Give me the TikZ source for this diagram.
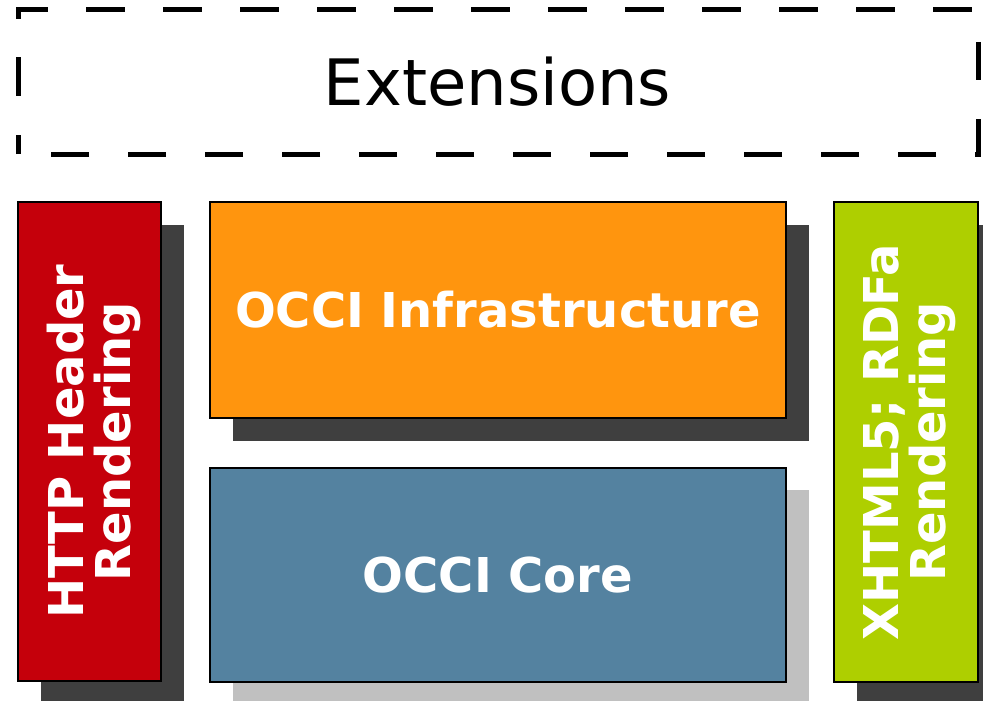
\documentclass[tikz,border=0pt]{standalone}
\usepackage{fontspec}
\setmainfont{DejaVu Sans}
\definecolor{cred}{HTML}{C5000B}
\definecolor{corange}{HTML}{FF950E}
\definecolor{cblue}{HTML}{5482A0}
\definecolor{cgreen}{HTML}{AECF00}
\definecolor{cshdark}{HTML}{3F3F3F}
\definecolor{cshlight}{HTML}{C0C0C0}
\begin{document}
\begin{tikzpicture}[x=1pt,y=-1pt,
  box/.style={draw=black,line width=1.5pt,inner sep=0pt,outer sep=0pt,
    text=white,font=\fontsize{48}{47}\selectfont\bfseries,align=center},
  sidetext/.style={rotate=90,inner sep=0pt,text=white,
    font=\fontsize{48}{47}\selectfont\bfseries,align=center},
  shadowbox/.style={inner sep=0pt,outer sep=0pt},
  extline/.style={draw=black,line width=5pt,dash pattern=on 38.5pt off 38.5pt,dash phase=19pt}]
\useasboundingbox (0,0) rectangle (983,701);
% shadows
\node[shadowbox,fill=cshdark,minimum width=143pt,minimum height=479pt] (httpsh) at (112,464) {};
\node[shadowbox,fill=cshdark,minimum width=576pt,minimum height=216pt] (infrash) at (520.5,332.5) {};
\node[shadowbox,fill=cshlight,minimum width=576pt,minimum height=214pt] (coresh) at (520.5,597) {};
\node[shadowbox,fill=cshdark,minimum width=144pt,minimum height=480pt] (xhtmlsh) at (928.5,464.5) {};
% boxes
\node[box,fill=cred,minimum width=143pt,minimum height=479pt] (http) at (89.5,441.5) {};
\node[sidetext] (httptext) at ([xshift=4pt]http.center) {HTTP Header\\Rendering};
\node[box,fill=corange,minimum width=576pt,minimum height=216pt] (infra) at (498,310) {OCCI Infrastructure};
\node[box,fill=cblue,minimum width=576pt,minimum height=214pt] (core) at (498,575) {OCCI Core};
\node[box,fill=cgreen,minimum width=144pt,minimum height=480pt] (xhtml) at (906,442) {};
\node[sidetext] (xhtmltext) at ([xshift=4pt]xhtml.center) {XHTML5; RDFa\\Rendering};
% extensions
\coordinate (extbl) at (18,154);
\coordinate (exttr) at (978,10);
\draw[extline] (extbl) -- (extbl |- exttr) -- (exttr) -- (exttr |- extbl) -- cycle;
\node[anchor=base,inner sep=0pt,font=\fontsize{64}{68}\selectfont] (exttext) at (497.5,105) {Extensions};
\end{tikzpicture}
\end{document}
